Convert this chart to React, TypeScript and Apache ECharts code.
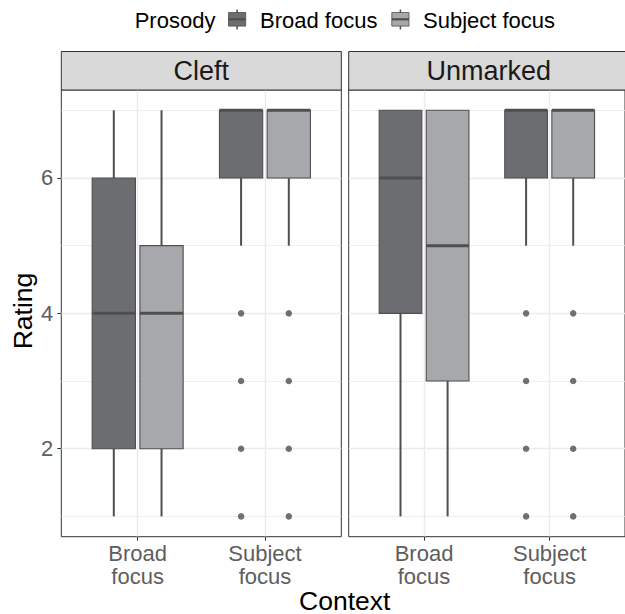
import React, { useEffect, useRef } from 'react';
import * as echarts from 'echarts';

// ---------- data ----------
const panels = ['Cleft', 'Unmarked'];
const contextLabels = ['Broad\nfocus', 'Subject\nfocus'];
const contextPos = [1, 2];
const prosodies = ['Broad focus', 'Subject focus'];
const yMajorTicks = [2, 4, 6];
const yMinorTicks = [1, 3, 5, 7];

// box stats per context: [low whisker, Q1, median, Q3, high whisker]
const cleftBroad = [[1, 2, 4, 6, 7], [5, 6, 7, 7, 7]];
const cleftSubject = [[1, 2, 4, 5, 7], [5, 6, 7, 7, 7]];
const unmarkedBroad = [[1, 4, 6, 7, 7], [5, 6, 7, 7, 7]];
const unmarkedSubject = [[1, 3, 5, 7, 7], [5, 6, 7, 7, 7]];

// outliers per context
const cleftBroadOutliers = [[], [4, 3, 2, 1]];
const cleftSubjectOutliers = [[], [4, 3, 2, 1]];
const unmarkedBroadOutliers = [[], [4, 3, 2, 1]];
const unmarkedSubjectOutliers = [[], [4, 3, 2, 1]];

const statsByPanel = [[cleftBroad, cleftSubject], [unmarkedBroad, unmarkedSubject]];
const outliersByPanel = [[cleftBroadOutliers, cleftSubjectOutliers], [unmarkedBroadOutliers, unmarkedSubjectOutliers]];

// ---------- style ----------
const FONT = '"Liberation Sans", Arial, Helvetica, sans-serif';
const fills = ['#6c6d70', '#a7a8ab'];
const lineCol = '#4f4f4f';
const dodge = [-0.1875, 0.1875];
const boxWidth = 0.34;
const gridLeft = [61.3, 348.7];
const gridTop = 90;
const gridW = 280;
const gridH = 446.7;

export default function App() {
  const ref = useRef<HTMLDivElement>(null);
  useEffect(() => {
    if (!ref.current) return;
    const chart = echarts.init(ref.current, undefined, { renderer: 'svg' });

    const grids = panels.map((_, p) => ({
      left: gridLeft[p], top: gridTop, width: gridW, height: gridH,
      show: true, borderColor: '#333333', borderWidth: 1, backgroundColor: 'transparent',
    }));

    const xAxes = panels.map((_, p) => ({
      type: 'value', gridIndex: p, min: 0.4, max: 2.6,
      axisLine: { show: false },
      axisTick: { show: true, customValues: contextPos, length: 4, lineStyle: { color: '#333333', width: 1 } },
      axisLabel: {
        show: true, customValues: contextPos, margin: 5,
        formatter: (v: number) => contextLabels[contextPos.indexOf(Math.round(v))] || '',
        color: '#5e5e5e', fontSize: 22, fontFamily: FONT, lineHeight: 23,
      },
      splitLine: { show: true, lineStyle: { color: '#ebebeb', width: 1.4 } },
    }));

    const yAxes: any[] = [];
    panels.forEach((_, p) => {
      yAxes.push({
        type: 'value', gridIndex: p, min: 0.7, max: 7.3, position: 'left',
        axisLine: { show: false },
        axisTick: { show: p === 0, customValues: yMajorTicks, length: 4, lineStyle: { color: '#333333', width: 1 } },
        axisLabel: { show: p === 0, customValues: yMajorTicks, margin: 8, color: '#5e5e5e', fontSize: 22, fontFamily: FONT },
        splitLine: { show: true, lineStyle: { color: '#ebebeb', width: 1.4 } },
      });
      yAxes.push({
        type: 'value', gridIndex: p, min: 0.7, max: 7.3, position: 'left',
        axisLine: { show: false },
        axisTick: { show: false, customValues: yMinorTicks },
        axisLabel: { show: false, customValues: yMinorTicks },
        splitLine: { show: true, lineStyle: { color: '#ebebeb', width: 0.8 } },
      });
    });

    const series: any[] = [];
    panels.forEach((_, p) => {
      prosodies.forEach((name, k) => {
        const data = statsByPanel[p][k].map((s, i) => [contextPos[i] + dodge[k], ...s]);
        series.push({
          type: 'custom', name, xAxisIndex: p, yAxisIndex: p * 2,
          encode: { x: 0, y: [1, 2, 3, 4, 5] },
          data,
          z: 3,
          renderItem: (params: any, api: any) => {
            const x = api.value(0);
            const lo = api.coord([x, api.value(1)]);
            const q1 = api.coord([x, api.value(2)]);
            const med = api.coord([x, api.value(3)]);
            const q3 = api.coord([x, api.value(4)]);
            const hi = api.coord([x, api.value(5)]);
            const w = api.size([boxWidth, 0])[0];
            const left = lo[0] - w / 2;
            return {
              type: 'group',
              children: [
                { type: 'line', shape: { x1: lo[0], y1: lo[1], x2: q1[0], y2: q1[1] }, style: { stroke: lineCol, lineWidth: 2 } },
                { type: 'line', shape: { x1: q3[0], y1: q3[1], x2: hi[0], y2: hi[1] }, style: { stroke: lineCol, lineWidth: 2 } },
                { type: 'rect', shape: { x: left, y: q3[1], width: w, height: q1[1] - q3[1] }, style: { fill: fills[k], stroke: lineCol, lineWidth: 1.1 } },
                { type: 'line', shape: { x1: left, y1: med[1], x2: left + w, y2: med[1] }, style: { stroke: lineCol, lineWidth: 3 } },
              ],
            };
          },
        });
        const outData: number[][] = [];
        outliersByPanel[p][k].forEach((vals, i) => vals.forEach((v) => outData.push([contextPos[i] + dodge[k], v])));
        series.push({
          type: 'scatter', name, xAxisIndex: p, yAxisIndex: p * 2, data: outData,
          symbol: 'circle', symbolSize: 6.5, itemStyle: { color: '#4d4d4d' }, z: 4,
        });
      });
    });

    const graphic: any[] = [];
    panels.forEach((name, p) => {
      graphic.push({
        type: 'rect', shape: { x: gridLeft[p], y: 51.5, width: gridW, height: gridTop - 51.5 },
        style: { fill: '#d9d9d9', stroke: '#333333', lineWidth: 1 }, z: 10,
      });
      graphic.push({
        type: 'text', x: gridLeft[p] + gridW / 2, y: 71,
        style: { text: name, fill: '#1a1a1a', font: `27px ${FONT}`, textAlign: 'center', textVerticalAlign: 'middle' }, z: 11,
      });
    });
    // axis titles
    graphic.push({
      type: 'text', x: 344.7, y: 600.5,
      style: { text: 'Context', fill: '#000000', font: `26.5px ${FONT}`, textAlign: 'center', textVerticalAlign: 'middle' },
    });
    graphic.push({
      type: 'text', x: 22.8, y: 311, rotation: Math.PI / 2,
      style: { text: 'Rating', fill: '#000000', font: `26.5px ${FONT}`, textAlign: 'center', textVerticalAlign: 'middle' },
    });
    // legend
    graphic.push({
      type: 'text', x: 134.7, y: 20.1,
      style: { text: 'Prosody', fill: '#000000', font: `22px ${FONT}`, textAlign: 'left', textVerticalAlign: 'middle' },
    });
    const keyX = [228.5, 391.8];
    const labelX = [260, 423];
    prosodies.forEach((name, k) => {
      const cx = keyX[k] + 8.6;
      graphic.push({ type: 'line', shape: { x1: cx, y1: 9.5, x2: cx, y2: 29.5 }, style: { stroke: lineCol, lineWidth: 1.5 } });
      graphic.push({ type: 'rect', shape: { x: keyX[k], y: 12.5, width: 17.2, height: 13.6 }, style: { fill: fills[k], stroke: lineCol, lineWidth: 0.8 } });
      graphic.push({ type: 'line', shape: { x1: keyX[k], y1: 19.3, x2: keyX[k] + 17.2, y2: 19.3 }, style: { stroke: lineCol, lineWidth: 2.2 } });
      graphic.push({
        type: 'text', x: labelX[k], y: 20.1,
        style: { text: name, fill: '#000000', font: `22px ${FONT}`, textAlign: 'left', textVerticalAlign: 'middle' },
      });
    });

    chart.setOption({
      animation: false,
      backgroundColor: '#ffffff',
      grid: grids,
      xAxis: xAxes,
      yAxis: yAxes,
      series,
      graphic,
    });
    return () => chart.dispose();
  }, []);

  return <div ref={ref} style={{ position: 'fixed', left: 0, top: 0, width: 625, height: 614 }} />;
}
